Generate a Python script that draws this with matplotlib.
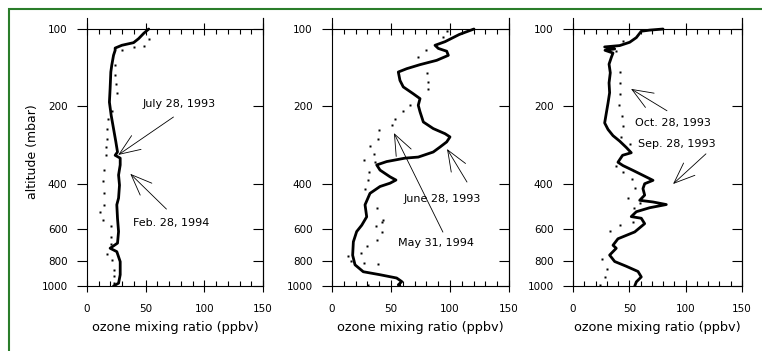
import matplotlib
matplotlib.use('Agg')
import matplotlib.pyplot as plt
from matplotlib.ticker import FixedLocator, NullLocator, FixedFormatter, MultipleLocator
from matplotlib.patches import Rectangle

plt.rcParams['font.family'] = 'DejaVu Sans'

# ---- data (pressure in mbar, ozone in ppbv) ----
# panel 1: July 28, 1993 (solid) and Feb. 28, 1994 (dots)
p1_line_p = [100, 104, 109, 113, 115.7, 118.6, 121, 126.6, 138.4, 147, 170.6, 192.6, 216.7, 244,
             275, 301, 310, 318, 338, 370, 405, 455, 483, 546, 614, 681, 713, 735, 804, 904, 975, 1000]
p1_line_o = [52.6, 48.3, 44, 39.7, 29.7, 24, 24, 22.6, 21.1, 20.3, 19.7, 19.1, 20.6, 22.6,
             24.6, 26, 24, 28.3, 28.3, 26.9, 27.7, 26.9, 25.4, 26, 26.9, 26, 19.7, 25.4, 28.3, 28.3, 26.9, 22.6]
p1_dots_p = [109, 116, 117.5, 121, 138, 151, 163, 177, 209, 223, 244, 267, 288, 310, 354, 390,
             436, 483, 517, 555, 584, 642, 687, 753, 792, 865, 918, 975]
p1_dots_o = [52.6, 48.3, 39.7, 29.7, 24, 24, 24.6, 25.4, 21.1, 17.7, 16.9, 16.9, 16, 16, 14.9, 14,
             14.6, 14.9, 11.1, 14, 20.3, 20.6, 20.6, 16.9, 21.7, 22.6, 22.6, 22.6]

# panel 2: June 28, 1993 (solid) and May 31, 1994 (dots)
p2_line_p = [100, 105, 112, 115.7, 119, 122, 126.6, 132.4, 137.6, 142.7, 147, 158.5, 168, 178.7,
             186.6, 198, 210, 230, 244, 255.5, 263, 275, 288, 301, 315, 318, 328, 338, 354, 376,
             387, 398, 410, 436, 483, 538, 580, 614, 673, 759, 827, 880, 904, 931, 961, 990, 1000]
p2_line_o = [120.3, 107.9, 95.8, 87.3, 90.1, 97.2, 98.6, 88.7, 74.6, 63.3, 56.2, 57.6, 60.4, 68.9,
             74.6, 73.1, 74.6, 77.4, 85.8, 95.8, 100, 97.2, 91.5, 85.8, 73.1, 61.9, 46.3, 37.9, 40.7, 49.2,
             54.2, 49.2, 40.7, 32.2, 28, 29.4, 25.2, 20.9, 18.1, 17.5, 19.5, 26.5, 40.7, 54.8, 59.1, 56.2, 57.6]
p2_dots_p = [102, 107.4, 121, 128.5, 148, 161, 171.6, 197, 208.5, 224.5, 236, 248, 267, 286, 306,
             323, 328, 359, 387, 420, 495, 555, 563, 583, 618, 662, 698, 743, 762, 800, 811, 822, 990]
p2_dots_o = [97.2, 93.8, 79.4, 73.1, 80.8, 81.6, 81.1, 66.1, 59.9, 53.4, 51.1, 40.1, 39.2, 32.2, 35.6,
             27.4, 36.4, 31.6, 30.8, 28, 37.9, 43.5, 42.1, 37, 42.1, 37.9, 29.4, 24.6, 13.8, 15.8, 27.4, 39.2, 30.8]

# panel 3: Sep. 28, 1993 (solid) and Oct. 28, 1993 (dots)
p3_line_p = [100, 101, 102, 108, 112.6, 116, 117.4, 119.5, 121, 124, 129, 137, 148, 162, 177, 194,
             212, 232, 246, 260, 273, 289, 303, 310, 330, 340, 355, 371, 388, 400, 418, 443, 464,
             471, 482, 496, 514, 537, 545, 572, 616, 655, 694, 713, 758, 803, 838, 878, 922, 964, 1000]
p3_line_o = [79.9, 68, 60.6, 56.2, 50.3, 41.4, 28.1, 37, 28.4, 35.5, 34, 32, 33.1, 32, 32.5, 31.1,
             29.6, 28.1, 31.1, 35.5, 41.4, 47.3, 51.7, 44, 39.9, 44.4, 53.3, 62.1, 71, 63.6, 62.1, 63.6, 59.2,
             71, 82.8, 68, 56.2, 51.7, 60.6, 63.6, 54.8, 39.9, 35.5, 38.4, 32.5, 37, 47.3, 57.7, 60.6, 56.2, 54.8]
p3_dots_p = [111.6, 122, 147, 162, 179, 197, 218, 238, 264, 281, 340, 359, 385, 416, 455, 477, 496,
             564, 581, 612, 783, 855, 922, 990]
p3_dots_o = [44.4, 38.4, 41.4, 42, 41.4, 40.8, 43.8, 44.4, 42.9, 50.3, 37.9, 44.4, 52.6, 54.8, 48.8,
             59.2, 54.1, 53.3, 41.4, 32.5, 26, 30.4, 28.1, 24]

# labels: text, text position (ozone, p), arrow start, arrow tip
p1_notes = [('July 28, 1993', (47, 196), (73.7, 220), (26.6, 309)),
            ('Feb. 28, 1994', (39.4, 569), (67.7, 502), (36.9, 366))]
p2_notes = [('June 28, 1993', (61, 459), (114.4, 394), (97.5, 293)),
            ('May 31, 1994', (56, 680), (94, 617), (52.5, 254))]
p3_notes = [('Oct. 28, 1993', (55, 232), (83.4, 208), (51.5, 171)),
            ('Sep. 28, 1993', (57.7, 280), (118, 306), (88.8, 401))]

xticks = [0, 50, 100, 150]
yticks = [100, 200, 400, 600, 800, 1000]
ylabels = ['100', '200', '400', '600', '800', '1000']

fig = plt.figure(figsize=(7.62, 3.51), dpi=100)

W, H = 762.0, 351.0
bottom = 1 - 286 / H
height = (286 - 18) / H
boxes = [(87, 176), (332, 177), (573, 169)]

panels = [(p1_line_o, p1_line_p, p1_dots_o, p1_dots_p, p1_notes),
          (p2_line_o, p2_line_p, p2_dots_o, p2_dots_p, p2_notes),
          (p3_line_o, p3_line_p, p3_dots_o, p3_dots_p, p3_notes)]

for i, ((lx, lw), (lo, lp, do, dp, notes)) in enumerate(zip(boxes, panels)):
    ax = fig.add_axes([lx / W, bottom, lw / W, height])
    ax.plot(lo, lp, color='black', lw=2.0, solid_joinstyle='round', solid_capstyle='round')
    ax.plot(do, dp, ls='none', marker='s', ms=2, mfc='black', mec='none')

    ax.set_yscale('log')
    ax.set_ylim(1000, 90.6)
    ax.set_xlim(0, 150)
    ax.spines['top'].set_position(('data', 100))
    for s in ax.spines.values():
        s.set_linewidth(0.8)

    ax.yaxis.set_major_locator(FixedLocator(yticks))
    ax.yaxis.set_major_formatter(FixedFormatter(ylabels))
    ax.yaxis.set_minor_locator(NullLocator())
    ax.xaxis.set_major_locator(FixedLocator(xticks))
    ax.xaxis.set_minor_locator(MultipleLocator(10))
    ax.tick_params(axis='x', which='major', direction='inout', length=9, width=0.8,
                   top=True, labelsize=7.5, pad=8.5)
    ax.tick_params(axis='x', which='minor', direction='in', length=3.5, width=0.8, top=True)
    ax.tick_params(axis='y', which='major', direction='out', length=7.5, width=0.8,
                   right=False, labelsize=7.5, pad=6.5)

    sec = ax.secondary_yaxis('right')
    sec.set_yticks(yticks)
    sec.yaxis.set_minor_locator(NullLocator())
    sec.tick_params(axis='y', which='major', direction='in', length=7.5, width=0.8, labelright=False)
    sec.spines['right'].set_linewidth(0.8)

    ax.set_xlabel('ozone mixing ratio (ppbv)', fontsize=9.3, labelpad=5)
    if i == 0:
        ax.set_ylabel('altitude (mbar)', fontsize=9, labelpad=2)

    for txt, tpos, start, tip in notes:
        ax.text(tpos[0], tpos[1], txt, fontsize=8, ha='left', va='center')
        ax.annotate('', xy=tip, xytext=start,
                    arrowprops=dict(arrowstyle='->,head_length=1.5,head_width=0.6',
                                    lw=0.6, color='black', shrinkA=0, shrinkB=0))

# green frame
fig.add_artist(Rectangle((9 / W, -0.5), 2, 1.5 - 9 / H, transform=fig.transFigure,
                         fill=False, ec='#2a7d2a', lw=1.5))

fig.savefig('out.png', dpi=100)
